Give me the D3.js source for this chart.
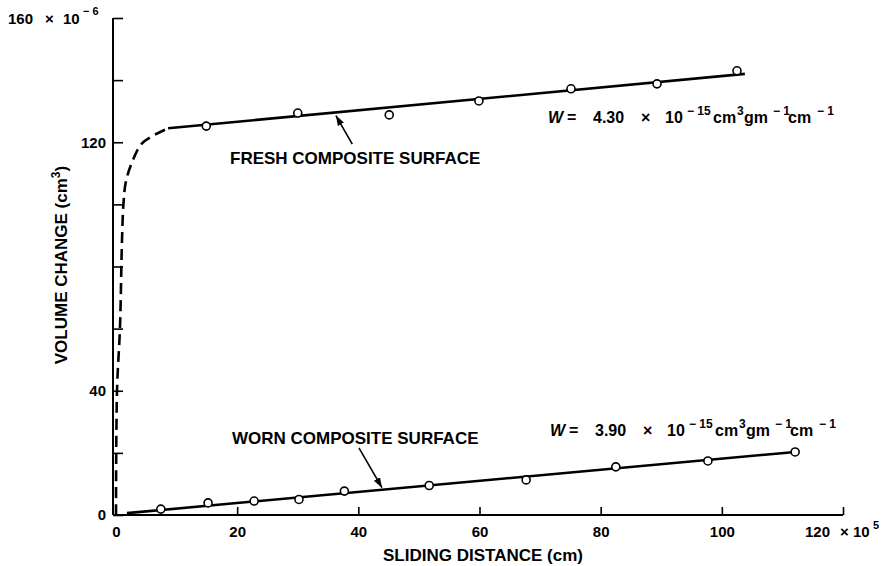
<!DOCTYPE html>
<html>
<head>
<meta charset="utf-8">
<script src="https://cdn.jsdelivr.net/npm/d3@7"></script>
<style>
  html, body { margin: 0; padding: 0; background: #fff; }
  svg { display: block; font-family: "Liberation Sans", Arial, Helvetica, sans-serif; font-weight: bold; }
</style>
</head>
<body>
<svg id="chart" width="886" height="566"></svg>
<script>
// Sliding distance in units of 10^5 cm, volume change in units of 10^-6 cm^3
const freshDistance = [14.9, 30.0, 45.1, 59.9, 75.1, 89.3, 102.5];
const freshVolume   = [125.2, 129.4, 128.8, 133.3, 137.2, 138.8, 143.0];

const wornDistance = [7.4, 15.2, 22.8, 30.2, 37.7, 51.7, 67.7, 82.5, 97.7, 112.1];
const wornVolume   = [1.9, 3.9, 4.5, 5.0, 7.7, 9.5, 11.3, 15.5, 17.4, 20.3];

// Least-squares style fits drawn as straight lines (start, end)
const freshFitDistance = [8.6, 103.8];
const freshFitVolume   = [124.5, 142.0];
const wornFitDistance  = [1.8, 112.1];
const wornFitVolume    = [0.6, 20.3];

// Running-in transient of the fresh surface (dashed)
const runInDistance = [0, 0.17, 0.66, 0.99, 1.24, 1.65, 2.8, 4.3, 6.6, 8.6];
const runInVolume   = [0, 40.2, 60.5, 88.5, 100.4, 107.5, 114.3, 119.6, 122.6, 124.5];

const xTicks = [0, 20, 40, 60, 80, 100, 120];
const yTicks = [0, 20, 40, 60, 80, 100, 120, 140, 160];
const yLabelled = [0, 40, 120];

const svg = d3.select("#chart");
const x = d3.scaleLinear().domain([0, 120]).range([116, 843]);
const y = d3.scaleLinear().domain([0, 160]).range([515, 18]);
const axisX0 = 113;

// Y axis with inward ticks
const yAxis = svg.append("g")
  .attr("transform", `translate(${axisX0},0)`)
  .call(d3.axisLeft(y).tickValues(yTicks).tickSize(-10).tickSizeOuter(0)
    .tickFormat(d => yLabelled.includes(d) ? d : ""));
yAxis.select(".domain").attr("stroke", "#000").attr("stroke-width", 2)
  .attr("d", `M0,${y(0)}V${y(160)}`);
yAxis.selectAll(".tick line").attr("stroke", "#000").attr("stroke-width", 1.6);
yAxis.selectAll(".tick text").attr("x", -7).attr("dy", "0.33em")
  .attr("font-size", 15).attr("font-weight", "bold").attr("fill", "#000")
  .attr("font-family", "Liberation Sans, Arial, sans-serif");

// X axis with inward ticks
const xAxis = svg.append("g")
  .attr("transform", `translate(0,${y(0)})`)
  .call(d3.axisBottom(x).tickValues(xTicks).tickSize(-8).tickSizeOuter(0)
    .tickFormat(d => d === 120 ? "" : d));
xAxis.select(".domain").attr("stroke", "#000").attr("stroke-width", 2)
  .attr("d", `M${axisX0},0H${x(120)}`);
xAxis.selectAll(".tick line").attr("stroke", "#000").attr("stroke-width", 1.6)
  .attr("opacity", d => d === 0 ? 0 : 1);
xAxis.selectAll(".tick text").attr("y", 22).attr("dy", 0)
  .attr("font-size", 15).attr("font-weight", "bold").attr("fill", "#000")
  .attr("font-family", "Liberation Sans, Arial, sans-serif");

// Scale multipliers on the end labels
const yTop = svg.append("text").attr("y", y(160) + 6).attr("font-size", 15);
yTop.append("tspan").attr("x", 8).text("160");
yTop.append("tspan").attr("x", 45).text("×");
yTop.append("tspan").attr("x", 63).text("10");
yTop.append("tspan").attr("x", 83).attr("dy", -9).attr("font-size", 11).text("− 6");

const xEnd = svg.append("text").attr("y", y(0) + 22).attr("font-size", 15);
xEnd.append("tspan").attr("x", x(120) - 38).text("120");
xEnd.append("tspan").attr("x", x(120) - 3).text("×");
xEnd.append("tspan").attr("x", x(120) + 10).text("10");
xEnd.append("tspan").attr("x", x(120) + 30).attr("dy", -8).attr("font-size", 11).text("5");

// Axis titles
svg.append("text").attr("x", 483).attr("y", 561).attr("text-anchor", "middle")
  .attr("font-size", 17).text("SLIDING DISTANCE (cm)");

const yTitle = svg.append("text").attr("transform", "translate(67,265) rotate(-90)")
  .attr("text-anchor", "middle").attr("font-size", 17);
yTitle.append("tspan").text("VOLUME CHANGE (cm");
yTitle.append("tspan").attr("dy", -7).attr("font-size", 12).text("3");
yTitle.append("tspan").attr("dy", 7).text(")");

// Lines
const line = d3.line().x(d => x(d[0])).y(d => y(d[1]));
const zip = (a, b) => a.map((v, i) => [v, b[i]]);

svg.append("path").datum(zip(runInDistance, runInVolume))
  .attr("d", line.curve(d3.curveCatmullRom.alpha(0.5)))
  .attr("fill", "none").attr("stroke", "#000").attr("stroke-width", 2.6)
  .attr("stroke-dasharray", "11,6");
line.curve(d3.curveLinear);

svg.append("path").datum(zip(freshFitDistance, freshFitVolume))
  .attr("d", line).attr("fill", "none").attr("stroke", "#000").attr("stroke-width", 2.6);
svg.append("path").datum(zip(wornFitDistance, wornFitVolume))
  .attr("d", line).attr("fill", "none").attr("stroke", "#000").attr("stroke-width", 2.6);

// Measured points
function drawPoints(xs, ys) {
  svg.append("g").selectAll("circle").data(zip(xs, ys)).join("circle")
    .attr("cx", d => x(d[0])).attr("cy", d => y(d[1])).attr("r", 4)
    .attr("fill", "#fff").attr("stroke", "#000").attr("stroke-width", 1.6);
}
drawPoints(freshDistance, freshVolume);
drawPoints(wornDistance, wornVolume);

// Label arrows
svg.append("defs").append("marker").attr("id", "head")
  .attr("viewBox", "0 0 10 10").attr("refX", 10).attr("refY", 5)
  .attr("markerWidth", 10).attr("markerHeight", 10).attr("markerUnits", "userSpaceOnUse")
  .attr("orient", "auto")
  .append("path").attr("d", "M0,1.5L10,5L0,8.5Z").attr("fill", "#000");

function arrow(from, to) {
  svg.append("line")
    .attr("x1", x(from[0])).attr("y1", y(from[1]))
    .attr("x2", x(to[0])).attr("y2", y(to[1]))
    .attr("stroke", "#000").attr("stroke-width", 1.6).attr("marker-end", "url(#head)");
}
arrow([39.0, 119.4], [36.3, 128.6]);
arrow([40.1, 21.6], [43.9, 8.8]);

svg.append("text").attr("x", 230).attr("y", 164).attr("font-size", 17)
  .text("FRESH COMPOSITE SURFACE");
svg.append("text").attr("x", 232).attr("y", 444).attr("font-size", 17)
  .text("WORN COMPOSITE SURFACE");

// Wear-rate annotations
function wearRate(x0, baseline, value) {
  const t = svg.append("text").attr("y", baseline).attr("font-size", 16);
  const sup = (s, dx) => t.append("tspan").attr("x", x0 + dx).attr("dy", -8)
    .attr("font-size", 12).text(s);
  const norm = (s, dx) => t.append("tspan").attr("x", x0 + dx).attr("y", baseline).attr("dy", 0).text(s);
  norm("W", 0).attr("font-style", "italic");
  norm("=", 19);
  norm(value, 45);
  norm("×", 93);
  norm("10", 117);
  sup("− 15", 139);
  norm("cm", 165);
  sup("3", 189);
  norm("gm", 196);
  sup("− 1", 225);
  norm("cm", 240);
  sup("−  1", 269);
}
wearRate(548, 123, "4.30");
wearRate(550, 436, "3.90");
</script>
</body>
</html>
